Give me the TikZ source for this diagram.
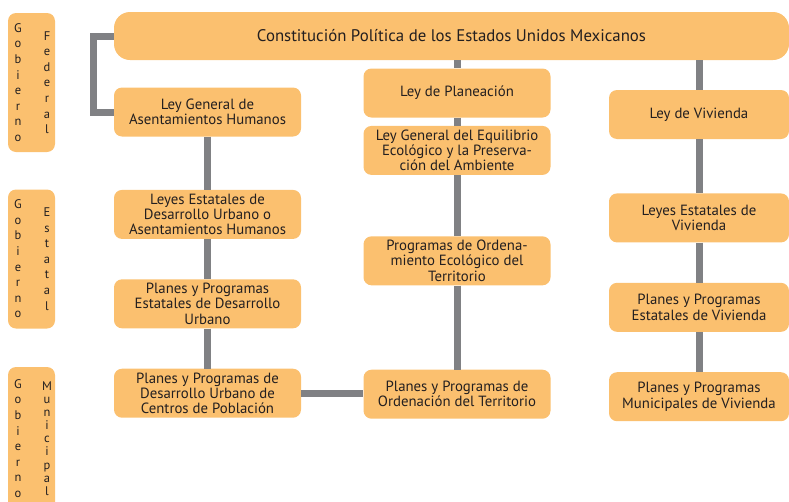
\documentclass[tikz,border=0pt]{standalone}
\usepackage{fontspec}
\setmainfont{PT Sans}
\usetikzlibrary{positioning}
\definecolor{boxfill}{RGB}{251,192,111}
\definecolor{linegray}{RGB}{128,129,132}
\definecolor{ink}{RGB}{35,31,32}

\begin{document}
\begin{tikzpicture}[
    x=1pt, y=1pt,
    box/.style={fill=boxfill, rounded corners=8pt, minimum width=187pt, minimum height=49pt, inner sep=2pt, align=center, text=ink, font=\fontsize{14.8}{15.2}\selectfont},
    govbox/.style={fill=boxfill, rounded corners=8pt, minimum width=47pt, minimum height=139pt},
    letters/.style={align=center, text=ink, inner sep=0pt, font=\fontsize{12.5}{15.6}\selectfont},
    link/.style={draw=linegray, line width=7pt, line join=miter}
  ]
    \clip (0,0) rectangle (789,-501);

    \node[box, minimum width=675pt, minimum height=48pt, rounded corners=16pt, font=\fontsize{16.8}{18}\selectfont] (cpeum) at (451.5,-36) {Constitución Política de los Estados Unidos Mexicanos};

    % gobierno
    \node[govbox] (fed) at (31.5,-82.5) {};
    \node[letters] (fedgob) at ([xshift=-13.5pt]fed.center) {G\\o\\b\\i\\e\\r\\n\\o};
    \node[letters] (fedname) at ([xshift=15.5pt]fed.center) {F\\e\\d\\e\\r\\a\\l};
    \node[govbox] (est) at (31.5,-259) {};
    \node[letters] (estgob) at ([xshift=-13.5pt]est.center) {G\\o\\b\\i\\e\\r\\n\\o};
    \node[letters] (estname) at ([xshift=15.5pt]est.center) {E\\s\\t\\a\\t\\a\\l};
    \node[govbox, minimum height=143pt] (mun) at (31.5,-438.5) {};
    \node[letters] (mungob) at ([xshift=-13.5pt]mun.center) {G\\o\\b\\i\\e\\r\\n\\o};
    \node[letters, font=\fontsize{12.5}{13.1}\selectfont] (munname) at ([xshift=15.5pt]mun.center) {M\\u\\n\\i\\c\\i\\p\\a\\l};

    % asentamientos humanos
    \node[box] (lgah) at (207.5,-112) {Ley General de\\Asentamientos Humanos};
    \node[box, below=53pt of lgah] (ledu) {Leyes Estatales de\\Desarrollo Urbano o\\Asentamientos Humanos};
    \node[box, below=40pt of ledu] (ppedu) {Planes y Programas\\Estatales de Desarrollo\\Urbano};
    \node[box, below=40pt of ppedu] (ppcp) {Planes y Programas de\\Desarrollo Urbano de\\Centros de Población};

    % planeacion
    \node[box] (lp) at (457,-93) {Ley de Planeación};
    \node[box, below=8pt of lp] (lgeepa) {Ley General del Equilibrio\\Ecológico y la Preserva-\\ción del Ambiente};
    \node[box, below=61pt of lgeepa] (poet) {Programas de Ordena-\\miento Ecológico del\\Territorio};
    \node[box, below=84pt of poet] (ppot) {Planes y Programas de\\Ordenación del Territorio};

    % vivienda
    \node[box, minimum width=180pt] (lv) at (699,-114.5) {Ley de Vivienda};
    \node[box, minimum width=180pt, below=54pt of lv] (lev) {Leyes Estatales de\\Vivienda};
    \node[box, minimum width=180pt, below=40pt of lev] (ppev) {Planes y Programas\\Estatales de Vivienda};
    \node[box, minimum width=180pt, below=40pt of ppev] (ppmv) {Planes y Programas\\Municipales de Vivienda};

    \draw[link] (cpeum.west) -- ++(-20.5,0) |- (lgah.west);
    \draw[link] (lgah) -- (ledu);
    \draw[link] (ledu) -- (ppedu);
    \draw[link] (ppedu) -- (ppcp);
    \draw[link] (ppcp.east) -- (ppcp.east -| ppot.west);

    \draw[link] (cpeum.south -| lp) -- (lp);
    \draw[link] (lp) -- (lgeepa);
    \draw[link] (lgeepa) -- (poet);
    \draw[link] (poet) -- (ppot);

    \draw[link] (cpeum.south -| lv) -- (lv);
    \draw[link] (lv) -- (lev);
    \draw[link] (lev) -- (ppev);
    \draw[link] (ppev) -- (ppmv);
\end{tikzpicture}
\end{document}
